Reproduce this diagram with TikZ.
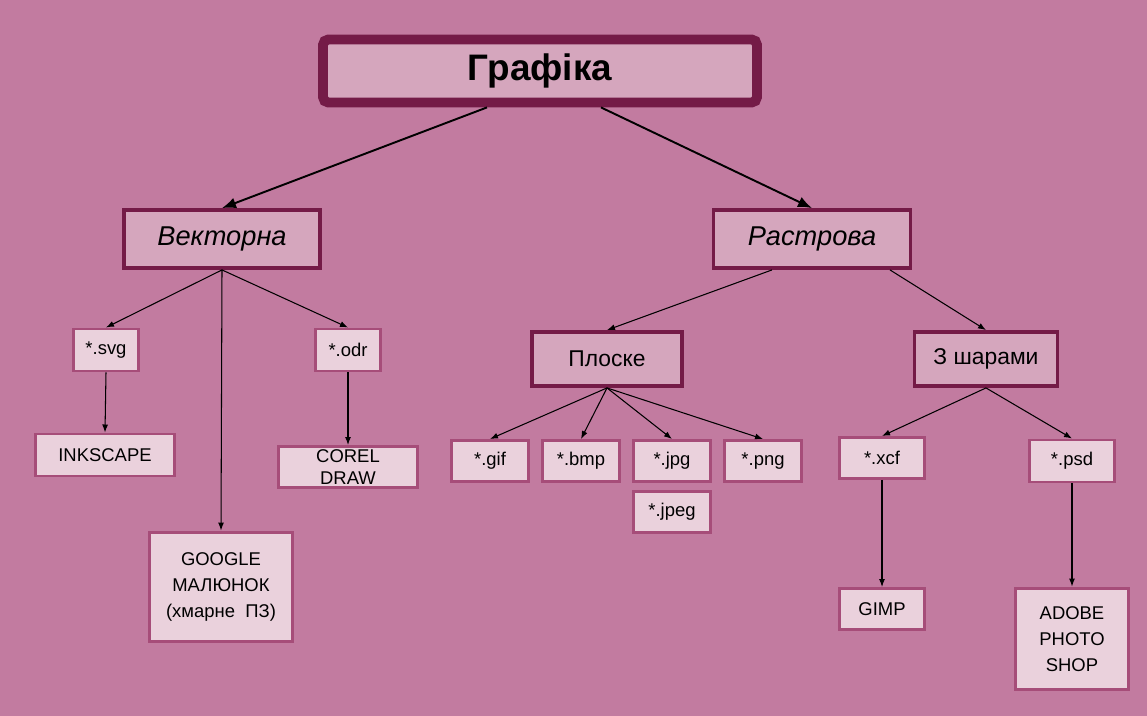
\documentclass[tikz,border=0pt]{standalone}
\usepackage{fontspec}
\setmainfont{Liberation Sans}
\usepackage{xcolor}
\usetikzlibrary{arrows.meta,positioning}

\definecolor{bgmauve}{HTML}{C27BA0}
\definecolor{darkplum}{HTML}{741B47}
\definecolor{midplum}{HTML}{A64D79}
\definecolor{pinkfill}{HTML}{D5A6BD}
\definecolor{leaffill}{HTML}{EAD1DC}

\begin{document}
\begin{tikzpicture}[x=0.02cm,y=-0.02cm,
  node distance=0.14cm,
  topbox/.style={draw=darkplum,line width=5.6pt,rounded corners=3pt,fill=pinkfill,
    minimum width=8.68cm,minimum height=1.26cm,inner sep=0pt,font=\bfseries\fontsize{21}{25}\selectfont},
  kind/.style={draw=darkplum,line width=2.2pt,fill=pinkfill,inner sep=0pt,
    minimum height=1.16cm,font=\itshape\fontsize{15.5}{18}\selectfont},
  sub/.style={draw=darkplum,line width=2.2pt,fill=pinkfill,inner sep=0pt,
    minimum height=1.08cm,font=\fontsize{13}{16}\selectfont},
  leaf/.style={draw=midplum,line width=1.7pt,fill=leaffill,inner sep=0pt,align=center,
    minimum height=0.82cm,font=\fontsize{10.5}{14.7}\selectfont},
  big/.style={-{Latex[length=2.8mm,width=2.2mm]},line width=1.1pt},
  thin/.style={-{Latex[length=1.6mm,width=1.2mm]},line width=0.6pt}]
\fill[bgmauve] (0,0) rectangle (1147,716);
\useasboundingbox (0,0) rectangle (1147,716);

% top and the two kinds
\node[topbox] (graf) at (540,71) {Графіка};
\node[kind,minimum width=3.92cm] (vec) at (222,239) {Векторна};
\node[kind,minimum width=3.94cm] (ras) at (812,239) {Растрова};

% vector side
\node[leaf,minimum width=1.3cm,minimum height=0.84cm] (svg) at (106,350) {*.svg};
\node[leaf,minimum width=1.3cm,minimum height=0.84cm] (odr) at (348,350) {*.odr};
\node[leaf,minimum width=2.8cm,minimum height=0.84cm] (ink) at (105,455) {INKSCAPE};
\node[leaf,minimum width=2.8cm,font=\fontsize{10.5}{12.4}\selectfont] (corel) at (348,467) {COREL\\DRAW};
\node[leaf,minimum width=2.88cm,minimum height=2.2cm] (goog) at (221,587) {GOOGLE\\МАЛЮНОК\\(хмарне\ \ ПЗ)};

% raster side
\node[sub,minimum width=3.0cm] (plo) at (607,359) {Плоске};
\node[sub,minimum width=2.86cm] (shar) at (986,359) {З шарами};
\node[leaf,minimum width=1.54cm] (gif) at (490,461) {*.gif};
\node[leaf,minimum width=1.54cm] (bmp) at (581,461) {*.bmp};
\node[leaf,minimum width=1.54cm] (jpg) at (672,461) {*.jpg};
\node[leaf,minimum width=1.54cm] (png) at (763,461) {*.png};
\node[leaf,minimum width=1.54cm,below=of jpg] (jpeg) {*.jpeg};
\node[leaf,minimum width=1.7cm] (xcf) at (882,458) {*.xcf};
\node[leaf,minimum width=1.7cm,minimum height=0.84cm] (psd) at (1072,461) {*.psd};
\node[leaf,minimum width=1.7cm] (gimp) at (882,609) {GIMP};
\node[leaf,minimum width=2.26cm,minimum height=2.04cm] (adobe) at (1072,639) {ADOBE\\PHOTO\\SHOP};

\draw[big] ([xshift=-1.06cm]graf.south) -- (vec.north);
\draw[big] ([xshift=1.22cm]graf.south) -- (ras.north);
\draw[thin] ([xshift=-0.8cm]ras.south) -- (plo.north);
\draw[thin] ([xshift=1.56cm]ras.south) -- (shar.north);
\foreach \a/\b in {vec/svg,vec/odr,vec/goog,svg/ink,odr/corel,
    plo/gif,plo/bmp,plo/jpg,plo/png,shar/xcf,shar/psd,xcf/gimp,psd/adobe}
  \draw[thin] (\a.south) -- (\b.north);
\end{tikzpicture}
\end{document}
